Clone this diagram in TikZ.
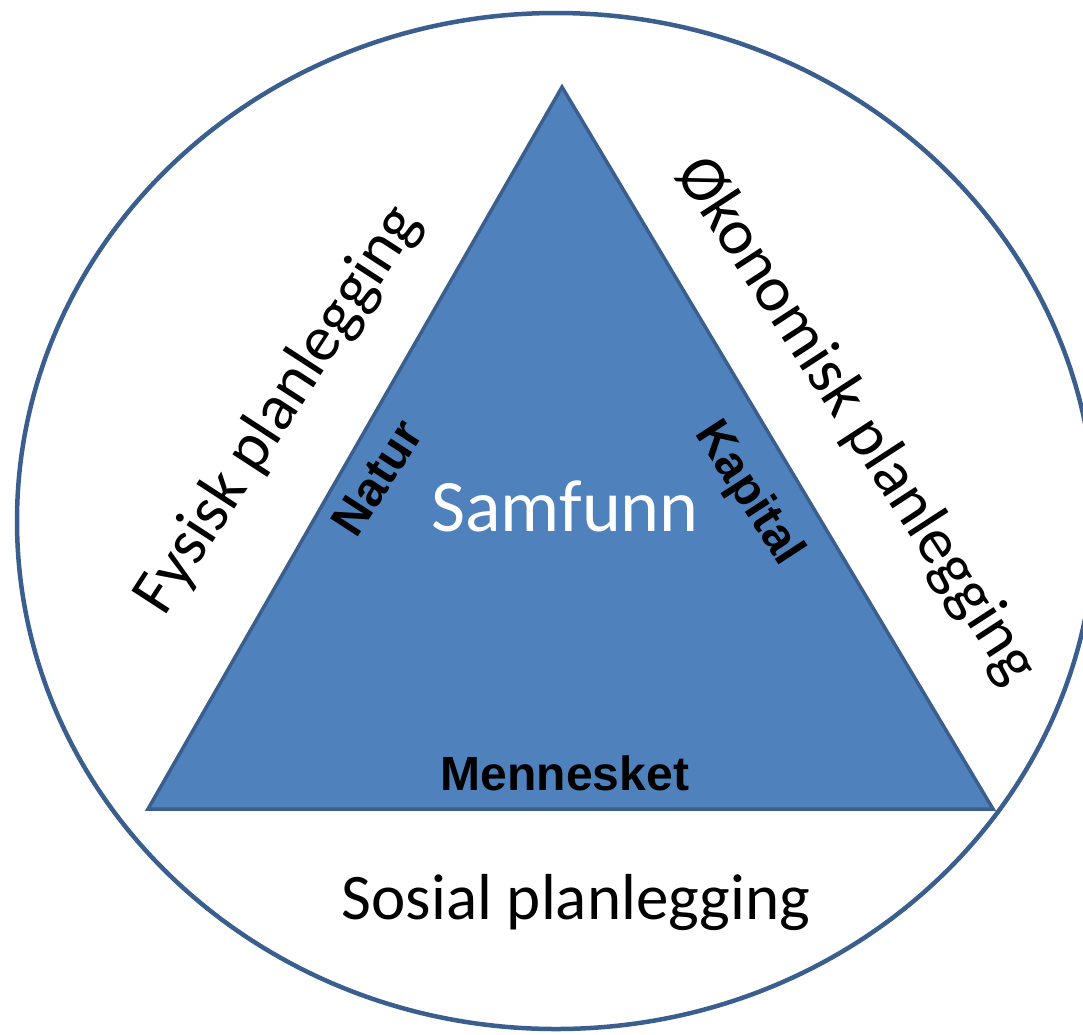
\documentclass[tikz,border=0pt]{standalone}
\usepackage{fontspec}
\setmainfont{Carlito}
\newfontfamily\arialfont{Liberation Sans}
\definecolor{triFill}{HTML}{4F81BD}
\definecolor{triLine}{HTML}{3A5F8E}
\tikzset{
  outerlbl/.style={inner sep=0pt, font=\fontsize{65}{70}\selectfont, text=black},
  innerlbl/.style={inner sep=0pt, font=\arialfont\bfseries\fontsize{48}{52}\selectfont, text=black},
  centerlbl/.style={inner sep=0pt, font=\fontsize{74}{80}\selectfont, text=white},
}
\begin{document}
\begin{tikzpicture}[x=1pt,y=-1pt]
\useasboundingbox (0,0) rectangle (1083,1034);
\begin{scope}
\clip (0,0) rectangle (1083,1034);
\draw[triLine, line width=4.5pt] (556,521) ellipse [x radius=539, y radius=508];
\end{scope}
\coordinate (apex) at (562,87);
\coordinate (bl) at (148,809);
\coordinate (br) at (993,809);
\draw[triLine, fill=triFill, line width=3.5pt] (apex) -- (br) -- (bl) -- cycle;
\node[centerlbl, anchor=base] (samfunn) at (565,531) {Samfunn};
\node[innerlbl, anchor=base] (mennesket) at (565,790) {Mennesket};
\node[innerlbl, rotate=57] (natur) at (377,478) {Natur};
\node[innerlbl, rotate=-57] (kapital) at (748,494) {Kapital};
\node[outerlbl, anchor=base] (sosial) at (576,919) {Sosial planlegging};
\node[outerlbl, rotate=57] (fysisk) at (279,410) {Fysisk planlegging};
\node[outerlbl, rotate=-57] (okonomisk) at (856,421) {Økonomisk planlegging};
\end{tikzpicture}
\end{document}
